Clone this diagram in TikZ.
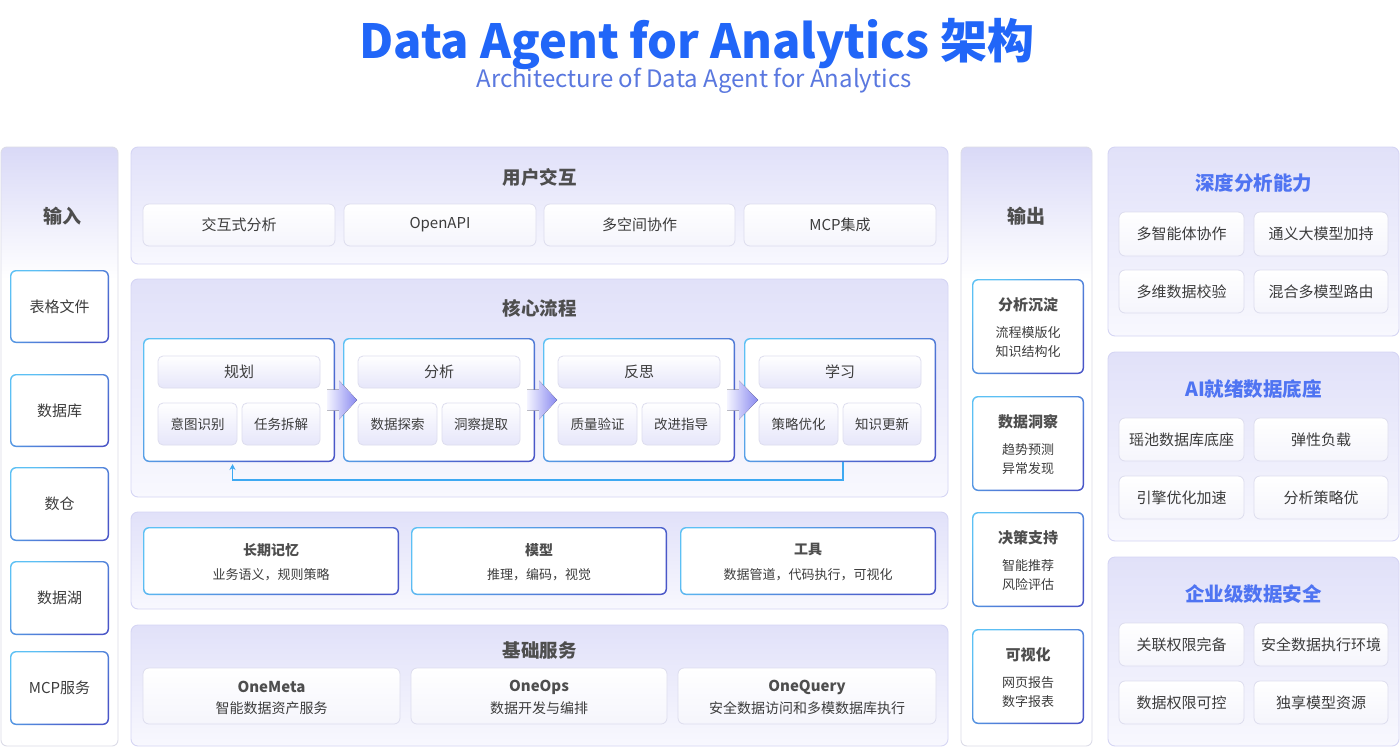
\documentclass[tikz,border=0pt]{standalone}
\usepackage{fontspec}
\setmainfont{Noto Sans CJK SC}
\usetikzlibrary{calc,arrows.meta}
\definecolor{lavTop}{HTML}{E1E1F9}
\definecolor{lavBot}{HTML}{F8F8FE}
\definecolor{colTop}{HTML}{D9D9F7}
\definecolor{pborder}{HTML}{D5D5F4}
\definecolor{gborder}{HTML}{DCDCE8}
\definecolor{iborder}{HTML}{DDDDEE}
\definecolor{txt}{HTML}{3C3C3C}
\definecolor{ttl}{HTML}{4E4E4E}
\definecolor{blueT}{HTML}{2166F8}
\definecolor{blueS}{HTML}{5A78DF}
\definecolor{rtitle}{HTML}{4F74F2}
\definecolor{bdA}{HTML}{5CC0F4}
\definecolor{bdB}{HTML}{4A57C8}
\definecolor{feed}{HTML}{3EA9F2}
\definecolor{chevA}{HTML}{F4F4FF}
\definecolor{chevB}{HTML}{8A8AF0}
\definecolor{hdrBot}{HTML}{E6E6FA}
\definecolor{itemBot}{HTML}{F5F5FC}
\pgfdeclareverticalshading{colfade}{100bp}{color(0bp)=(white); color(64bp)=(white); color(75bp)=(colTop); color(100bp)=(colTop)}
\newcommand\RB[7][]{%
  \pgfmathsetmacro\RBcx{(#3+#5)/2}%
  \pgfmathsetmacro\RBcy{(#4+#6)/2}%
  \pgfmathsetmacro\RBw{#5-#3}%
  \pgfmathsetmacro\RBh{#6-#4}%
  \node[#1, minimum width=\RBw pt, minimum height=\RBh pt, inner sep=0pt, outer sep=0pt] (#2) at (\RBcx,\RBcy) {#7};}
\tikzset{
  panel/.style={draw=pborder, line width=0.9pt, rounded corners=7pt, top color=lavTop, bottom color=lavBot},
  column/.style={draw=gborder, line width=0.9pt, rounded corners=6pt, shading=colfade},
  gbox/.style={rounded corners=6pt, top color=bdA, bottom color=bdB, shading angle=45,
    path picture={\fill[white, rounded corners=5pt] ([shift={(1.3pt,-1.3pt)}]path picture bounding box.north west) rectangle ([shift={(-1.3pt,1.3pt)}]path picture bounding box.south east);}},
  item/.style={draw=iborder, line width=0.8pt, rounded corners=6pt, top color=white, bottom color=itemBot},
  hdr/.style={draw=iborder, line width=0.8pt, rounded corners=5pt, top color=white, bottom color=hdrBot},
  f15/.style={font=\fontsize{15}{18}\selectfont, text=txt},
  f14/.style={font=\fontsize{14}{17}\selectfont, text=txt},
  f13/.style={font=\fontsize{13.5}{16}\selectfont, text=txt},
  f13s/.style={font=\fontsize{13}{16}\selectfont, text=txt},
  b15/.style={font=\fontsize{15}{18}\selectfont\bfseries, text=ttl},
  b14/.style={font=\fontsize{14}{17}\selectfont\bfseries, text=ttl},
  ptitle/.style={font=\fontsize{18.5}{22}\selectfont\bfseries, text=ttl},
  rtitlest/.style={font=\fontsize{19.5}{23}\selectfont\bfseries, text=rtitle},
  feedline/.style={draw=feed, line width=1.4pt, -{Stealth[length=6pt,width=6pt]}},
}
\begin{document}
\begin{tikzpicture}[x=1pt,y=-1pt]
\useasboundingbox (0,0) rectangle (1400,747);
\fill[white] (0,0) rectangle (1400,747);
% title
\node[text=blueT, inner sep=0pt] (title) at (697,44) {\fontsize{47}{52}\selectfont\bfseries Data Agent for Analytics 架构};
\node[text=blueS, inner sep=0pt] (subtitle) at (694,81) {\fontsize{24}{27}\selectfont Architecture of Data Agent for Analytics};

% left input column
\RB[column]{incol}{1}{147}{118}{746}{}
\node[font=\fontsize{19}{22}\selectfont\bfseries, text=ttl] (intitle) at (62,216) {输入};
\RB[gbox, f15]{in1}{10}{270}{109}{343}{表格文件}
\RB[gbox, f15]{in2}{10}{374}{109}{447}{数据库}
\RB[gbox, f15]{in3}{10}{467}{109}{541}{数仓}
\RB[gbox, f15]{in4}{10}{561}{109}{635}{数据湖}
\RB[gbox, f15]{in5}{10}{651}{109}{725}{MCP服务}

% user interaction
\RB[panel]{ui}{131}{147}{948}{264}{}
\node[ptitle] (uititle) at (539.5,177) {用户交互};
\RB[item, f15]{ui1}{143}{204}{335}{246}{交互式分析}
\RB[item, f15]{ui2}{344}{204}{536}{246}{OpenAPI}
\RB[item, f15]{ui3}{544}{204}{735}{246}{多空间协作}
\RB[item, f15]{ui4}{744}{204}{936}{246}{MCP集成}

% core flow
\RB[panel]{core}{131}{279}{948}{497}{}
\node[ptitle] (coretitle) at (539.5,308) {核心流程};
\foreach \i/\sx/\st/\sa/\sb in {1/143/规划/意图识别/任务拆解, 2/343/分析/数据探索/洞察提取, 3/543/反思/质量验证/改进指导, 4/744/学习/策略优化/知识更新}{
  \pgfmathsetmacro\xa{\sx+192}
  \pgfmathsetmacro\xb{\sx+15}
  \pgfmathsetmacro\xc{\sx+177}
  \pgfmathsetmacro\xd{\sx+94}
  \pgfmathsetmacro\xe{\sx+99}
  \RB[gbox]{s\i}{\sx}{338}{\xa}{462}{}
  \RB[hdr, f15]{h\i}{\xb}{356}{\xc}{388}{\st}
  \RB[hdr, f13]{a\i}{\xb}{403}{\xd}{445}{\sa}
  \RB[hdr, f13]{b\i}{\xe}{403}{\xc}{445}{\sb}
}
\foreach \i/\j in {1/2,2/3,3/4}{
  \fill[left color=chevA, right color=chevB]
    ($(s\i.east)+(-8,-10.5)$) -- ($(s\i.east)+(4,-10.5)$) -- ($(s\i.east)+(4,-19.5)$)
    -- ($(s\j.west)+(14,0)$) -- ($(s\i.east)+(4,19.5)$) -- ($(s\i.east)+(4,10.5)$)
    -- ($(s\i.east)+(-8,10.5)$) -- cycle;
}
\draw[feedline] ($(s4.south)+(3,0)$) -- ++(0,18) -| ($(s1.south)+(-6.5,2)$);

% memory / model / tools
\RB[panel]{mem}{131}{512}{948}{609}{}
\RB[gbox]{m1}{143}{527}{399}{595}{}
\RB[gbox]{m2}{411}{527}{667}{595}{}
\RB[gbox]{m3}{680}{527}{936}{595}{}
\node[b14] (m1t) at ($(m1.center)+(0,-11)$) {长期记忆};
\node[f13s] (m1s) at ($(m1.center)+(0,14)$) {业务语义，规则策略};
\node[b14] (m2t) at ($(m2.center)+(0,-11)$) {模型};
\node[f13s] (m2s) at ($(m2.center)+(0,14)$) {推理，编码，视觉};
\node[b14] (m3t) at ($(m3.center)+(0,-11)$) {工具};
\node[f13s] (m3s) at ($(m3.center)+(0,14)$) {数据管道，代码执行，可视化};

% base services
\RB[panel]{base}{131}{625}{948}{746}{}
\node[ptitle] (basetitle) at (539.5,650) {基础服务};
\RB[item]{bs1}{143}{668}{400}{724}{}
\RB[item]{bs2}{411}{668}{667}{724}{}
\RB[item]{bs3}{678}{668}{936}{724}{}
\node[b15] (bs1t) at ($(bs1.center)+(0,-9)$) {OneMeta};
\node[f14] (bs1s) at ($(bs1.center)+(0,12)$) {智能数据资产服务};
\node[b15] (bs2t) at ($(bs2.center)+(0,-9)$) {OneOps};
\node[f14] (bs2s) at ($(bs2.center)+(0,12)$) {数据开发与编排};
\node[b15] (bs3t) at ($(bs3.center)+(0,-9)$) {OneQuery};
\node[f14] (bs3s) at ($(bs3.center)+(0,12)$) {安全数据访问和多模数据库执行};

% output column
\RB[column]{outcol}{961}{147}{1092}{746}{}
\node[font=\fontsize{19}{22}\selectfont\bfseries, text=ttl] (outtitle) at (1026.5,216) {输出};
\foreach \i/\ty/\ta/\tb/\tc in {1/279/分析沉淀/流程模版化/知识结构化, 2/396/数据洞察/趋势预测/异常发现, 3/512/决策支持/智能推荐/风险评估, 4/629/可视化/网页报告/数字报表}{
  \pgfmathsetmacro\yb{\ty+95}
  \RB[gbox]{o\i}{972}{\ty}{1084}{\yb}{}
  \node[b15] (o\i t) at ($(o\i.north)+(0,25.5)$) {\ta};
  \node[f13s] (o\i a) at ($(o\i.north)+(0,53.5)$) {\tb};
  \node[f13s] (o\i b) at ($(o\i.north)+(0,72.5)$) {\tc};
}

% right panels
\RB[panel]{r1}{1108}{147}{1399}{336}{}
\node[rtitlest] (r1t) at (1253.5,183) {深度分析能力};
\RB[item, f15]{r1a}{1119}{212}{1244}{256}{多智能体协作}
\RB[item, f15]{r1b}{1254}{212}{1388}{256}{通义大模型加持}
\RB[item, f15]{r1c}{1119}{270}{1244}{313}{多维数据校验}
\RB[item, f15]{r1d}{1254}{270}{1388}{313}{混合多模型路由}

\RB[panel]{r2}{1108}{352}{1399}{541}{}
\node[rtitlest] (r2t) at (1253.5,389) {AI就绪数据底座};
\RB[item, f15]{r2a}{1119}{418}{1244}{461}{瑶池数据库底座}
\RB[item, f15]{r2b}{1254}{418}{1388}{461}{弹性负载}
\RB[item, f15]{r2c}{1119}{476}{1244}{519}{引擎优化加速}
\RB[item, f15]{r2d}{1254}{476}{1388}{519}{分析策略优}

\RB[panel]{r3}{1108}{557}{1399}{746}{}
\node[rtitlest] (r3t) at (1253.5,594) {企业级数据安全};
\RB[item, f15]{r3a}{1119}{623}{1244}{666}{关联权限完备}
\RB[item, f15]{r3b}{1254}{623}{1388}{666}{安全数据执行环境}
\RB[item, f15]{r3c}{1119}{681}{1244}{724}{数据权限可控}
\RB[item, f15]{r3d}{1254}{681}{1388}{724}{独享模型资源}
\end{tikzpicture}
\end{document}
